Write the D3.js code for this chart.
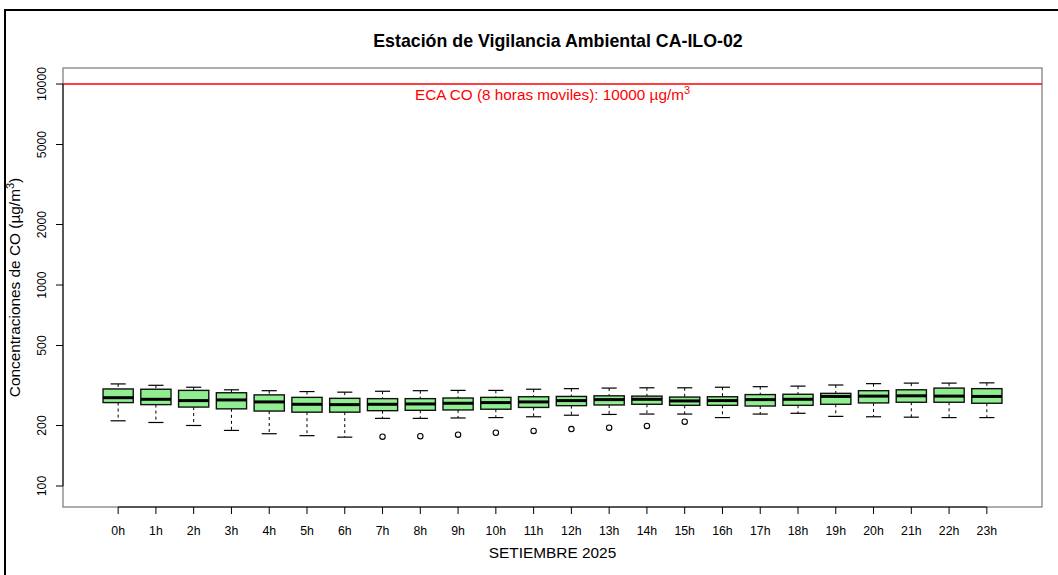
<!DOCTYPE html>
<html><head><meta charset="utf-8">
<script src="https://cdn.jsdelivr.net/npm/d3@7"></script>
<style>body{margin:0;background:#fff}svg{display:block;font-family:"Liberation Sans",Arial,sans-serif}</style>
</head><body><svg id="c" width="1058" height="575"></svg>
<script>
const hours = ["0h","1h","2h","3h","4h","5h","6h","7h","8h","9h","10h","11h","12h","13h","14h","15h","16h","17h","18h","19h","20h","21h","22h","23h"];
const whiskerHigh = [322,317,310,301,298,295,293,296,298,299,299,303,305,307,308,308,310,312,314,318,323,325,325,326];
const q3 =          [304,303,299,291,284,276,273,272,272,274,276,278,279,281,280,277,278,285,286,289,298,301,307,305];
const median =      [275,270,266,268,262,255,254,255,256,258,260,262,266,269,270,265,266,269,270,279,280,281,280,279];
const q1 =          [260,254,247,242,236,233,233,237,238,239,241,246,251,253,255,252,252,250,252,255,259,261,261,258];
const whiskerLow =  [211,207,200,189,182,178,175,217,217,218,219,221,225,227,228,228,219,228,230,222,221,220,219,219];
const outliers = [[7,176],[8,177],[9,180],[10,184],[11,188],[12,192],[13,195],[14,199],[15,209]];
const yTicks = [100,200,500,1000,2000,5000,10000];
const limitValue = 10000;

const svg = d3.select("#c");
const L=63, R=1042, T=68, B=507;
const x = d3.scaleLinear().domain([0.5-0.96, 24.5+0.96]).range([L,R]);
const y = d3.scaleLog().domain([Math.pow(10,2-21/201), Math.pow(10,4+16/201)]).range([B,T]);
const bw = x(1.4)-x(1);

// outer frame
svg.append("path").attr("d","M5,575V10H1058").attr("fill","none").attr("stroke","#000").attr("stroke-width",2);

// plot box
svg.append("rect").attr("x",L).attr("y",T).attr("width",R-L).attr("height",B-T)
  .attr("fill","none").attr("stroke","#777").attr("stroke-width",1.2);

// limit line
svg.append("line").attr("x1",L).attr("x2",R).attr("y1",y(limitValue)).attr("y2",y(limitValue))
  .attr("stroke","#f00").attr("stroke-width",1.5);
const lt = svg.append("text").attr("x",(L+R)/2).attr("y",y(limitValue)+16).attr("text-anchor","middle")
  .attr("fill","#f00").attr("font-size",15.3);
lt.append("tspan").text("ECA CO (8 horas moviles): 10000 µg/m");
lt.append("tspan").attr("dy",-6).attr("font-size",11).text("3");

// boxes
const g = svg.append("g");
hours.forEach((h,i)=>{
  const cx = x(i+1);
  g.append("line").attr("x1",cx).attr("x2",cx).attr("y1",y(whiskerHigh[i])).attr("y2",y(q3[i]))
    .attr("stroke","#000").attr("stroke-dasharray","3,3");
  g.append("line").attr("x1",cx).attr("x2",cx).attr("y1",y(q1[i])).attr("y2",y(whiskerLow[i]))
    .attr("stroke","#000").attr("stroke-dasharray","3,3");
  [whiskerHigh[i],whiskerLow[i]].forEach(v=>{
    g.append("line").attr("x1",cx-bw/2).attr("x2",cx+bw/2).attr("y1",y(v)).attr("y2",y(v))
      .attr("stroke","#000").attr("stroke-width",1.2);
  });
  g.append("rect").attr("x",cx-bw).attr("width",2*bw).attr("y",y(q3[i])).attr("height",y(q1[i])-y(q3[i]))
    .attr("fill","#90EE90").attr("stroke","#111").attr("stroke-width",1.4);
  g.append("line").attr("x1",cx-bw).attr("x2",cx+bw).attr("y1",y(median[i])).attr("y2",y(median[i]))
    .attr("stroke","#000").attr("stroke-width",3);
});
outliers.forEach(([i,v])=>{
  g.append("circle").attr("cx",x(i+1)).attr("cy",y(v)).attr("r",2.7).attr("fill","none").attr("stroke","#000").attr("stroke-width",1.1);
});

// y axis
const ya = svg.append("g");
ya.append("line").attr("x1",L).attr("x2",L).attr("y1",y(100)).attr("y2",y(10000)).attr("stroke","#000");
yTicks.forEach(v=>{
  ya.append("line").attr("x1",L-7).attr("x2",L).attr("y1",y(v)).attr("y2",y(v)).attr("stroke","#000");
  ya.append("text").attr("transform",`translate(45.5,${y(v)}) rotate(-90)`).attr("text-anchor","middle")
    .attr("font-size",12.3).text(v);
});
// x axis
const xa = svg.append("g");
xa.append("line").attr("x1",x(1)).attr("x2",x(24)).attr("y1",B).attr("y2",B).attr("stroke","#000");
hours.forEach((h,i)=>{
  xa.append("line").attr("x1",x(i+1)).attr("x2",x(i+1)).attr("y1",B).attr("y2",B+7).attr("stroke","#000");
  xa.append("text").attr("x",x(i+1)).attr("y",535).attr("text-anchor","middle").attr("font-size",12.3).text(h);
});

// titles
svg.append("text").attr("x",558).attr("y",47).attr("text-anchor","middle").attr("font-size",17.8)
  .attr("font-weight","bold").text("Estación de Vigilancia Ambiental CA-ILO-02");
svg.append("text").attr("x",(L+R)/2).attr("y",558).attr("text-anchor","middle").attr("font-size",15.4)
  .text("SETIEMBRE 2025");
const yt = svg.append("text").attr("transform",`translate(19.5,${(T+B)/2}) rotate(-90)`).attr("text-anchor","middle")
  .attr("font-size",15.4);
yt.append("tspan").text("Concentraciones de CO (µg/m");
yt.append("tspan").attr("dy",-6).attr("font-size",11).text("3");
yt.append("tspan").attr("dy",6).text(")");
</script></body></html>
